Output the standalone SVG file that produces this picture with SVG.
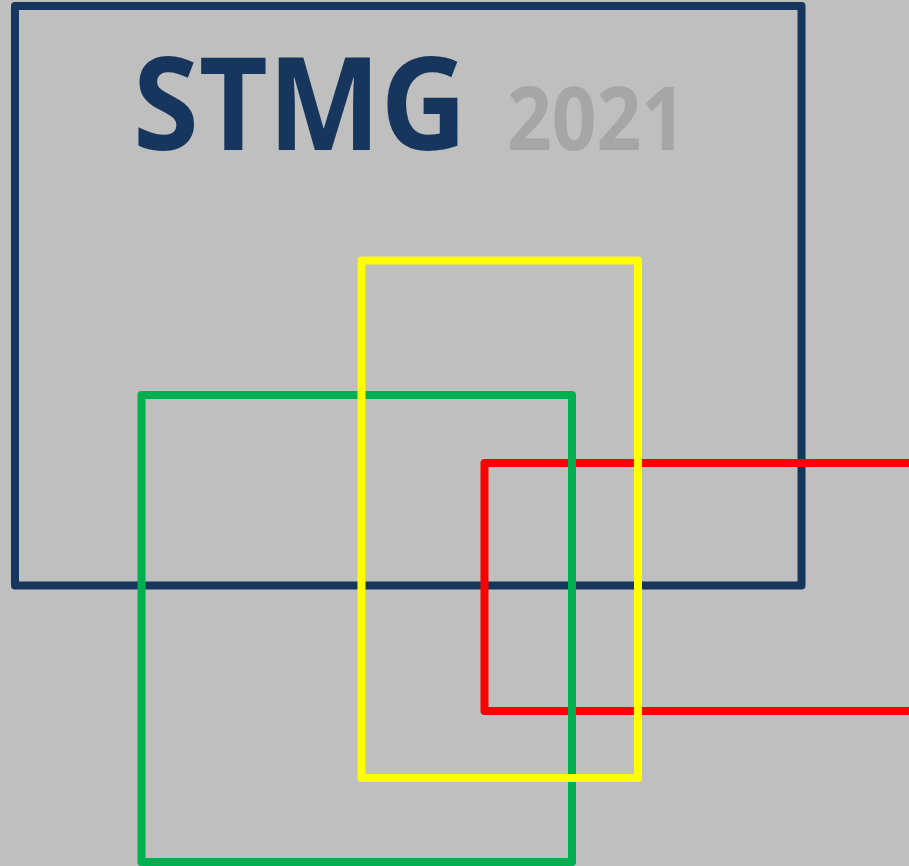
<svg xmlns="http://www.w3.org/2000/svg" width="909" height="866" viewBox="0 0 909 866">
  <style>
    .frame { fill: none; stroke-width: 8; stroke-linejoin: round; }
    .title { font-family: "Open Sans", "Liberation Sans", sans-serif; font-weight: 700; }
  </style>
  <rect x="0" y="0" width="909" height="866" fill="#BFBFBF"/>
  <g id="navy-box">
    <rect class="frame" x="15" y="6" width="786.5" height="579.5" stroke="#17365D"/>
    <text class="title" x="133" y="150" font-size="130" fill="#17365D" textLength="334" lengthAdjust="spacingAndGlyphs">STMG</text>
    <text class="title" x="507" y="150" font-size="88" fill="#A6A6A6" textLength="179" lengthAdjust="spacingAndGlyphs">2021</text>
  </g>
  <g id="red-box">
    <rect class="frame" x="484.5" y="463" width="440" height="248" stroke="#FF0000"/>
  </g>
  <g id="green-box">
    <rect class="frame" x="141.5" y="395" width="430.5" height="467" stroke="#00B050"/>
  </g>
  <g id="yellow-box">
    <rect class="frame" x="361.5" y="260.5" width="276.5" height="517.5" stroke="#FFFF00"/>
  </g>
</svg>
